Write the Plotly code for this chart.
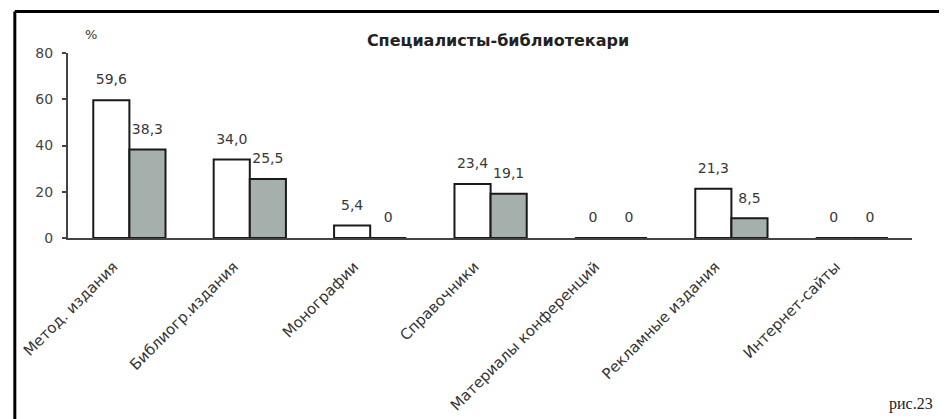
import plotly.graph_objects as go

categories = ["Метод. издания", "Библиогр.издания", "Монографии", "Справочники",
              "Материалы конференций", "Рекламные издания", "Интернет-сайты"]
series_a = [59.6, 34.0, 5.4, 23.4, 0, 21.3, 0]
series_b = [38.3, 25.5, 0, 19.1, 0, 8.5, 0]
y_ticks = [0, 20, 40, 60, 80]

def fmt(v):
    return "0" if v == 0 else f"{v:.1f}".replace(".", ",")

FONT = "DejaVu Sans"
L, T, PW, PH = 55, 45, 849, 185

fig = go.Figure()
for vals, color in [(series_a, "white"), (series_b, "#a5b0ad")]:
    fig.add_bar(x=categories, y=vals, marker=dict(color=color, line=dict(color="#1a1a1a", width=2)),
                hoverinfo="skip")
for vals in [series_a, series_b]:
    fig.add_scatter(x=categories, y=vals, mode="markers+text", text=[fmt(v) for v in vals],
                    textposition="top center", cliponaxis=False, hoverinfo="skip",
                    marker=dict(size=18, opacity=0),
                    textfont=dict(family=FONT, size=14, color="#383838"))

fig.update_layout(
    width=947, height=419,
    margin=dict(l=L, r=947 - L - PW, t=T, b=419 - T - PH, pad=0),
    paper_bgcolor="white", plot_bgcolor="white",
    barmode="group", bargap=0.4, bargroupgap=0,
    scattermode="group", scattergap=0.4,
    showlegend=False,
    font=dict(family=FONT, color="#333"),
    title=dict(text="<b>Специалисты-библиотекари</b>", x=490/947, xanchor="center",
               y=1 - 32/419, yanchor="middle", font=dict(size=16, color="#222", family=FONT)),
    xaxis=dict(showline=True, linecolor="#444", linewidth=2, ticks="", tickangle=-45,
               range=[-0.51, 6.5],
               tickfont=dict(size=15, color="#333"), showgrid=False, ticklabelstandoff=12,
               ticklabelshift=-16),
    yaxis=dict(range=[0, 80], tickvals=y_ticks, showline=True, linecolor="#444", linewidth=2,
               ticks="outside", ticklen=4, tickwidth=2, tickcolor="#444", showgrid=False, zeroline=False,
               tickfont=dict(size=14, color="#444"), ticklabelstandoff=6),
    shapes=[
        dict(type="line", xref="paper", yref="paper", x0=-53.5/PW, x1=1.1, y0=1 + 41.5/PH, y1=1 + 41.5/PH,
             line=dict(color="black", width=3)),
        dict(type="line", xref="paper", yref="paper", x0=-53.5/PW, x1=-53.5/PW, y0=1 + 41.5/PH, y1=-1.1,
             line=dict(color="black", width=3)),
    ],
    annotations=[
        dict(text="%", xref="paper", yref="paper", x=15/PW, y=1 + 28/PH, showarrow=False,
             font=dict(size=13, color="#333", family=FONT)),
        dict(text="рис.23", xref="paper", yref="paper", x=(927 - L)/PW, y=-(396 - T - PH)/PH,
             xanchor="right", yanchor="middle",
             showarrow=False, font=dict(size=16, color="#222", family="Liberation Serif")),
    ],
)

fig.write_html("out.html")
